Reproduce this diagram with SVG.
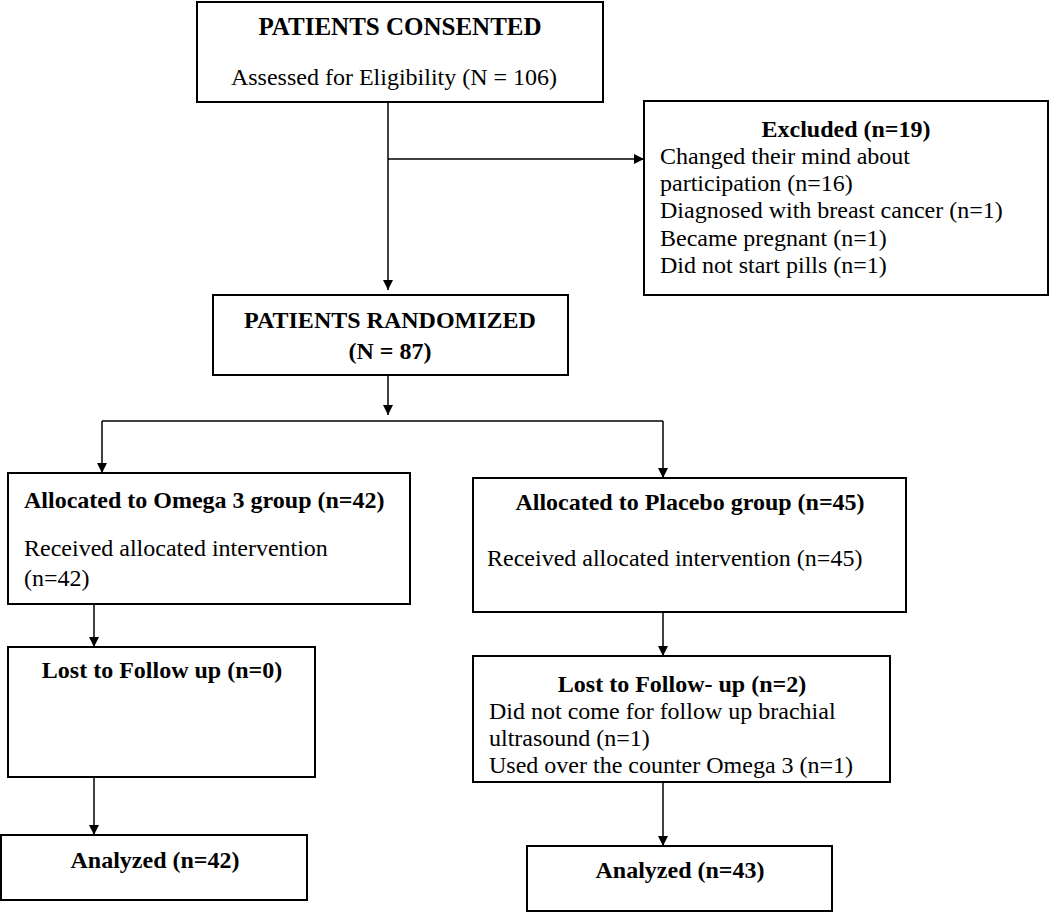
<svg xmlns="http://www.w3.org/2000/svg" width="1050" height="912" viewBox="0 0 1050 912">
<defs>
<marker id="ah" viewBox="0 0 10 10" refX="10" refY="5" markerWidth="10" markerHeight="11" markerUnits="userSpaceOnUse" orient="auto">
<path d="M0,0 L10,5 L0,10 z" fill="#000"/>
</marker>
<style>
.box{fill:#fff;stroke:#000;stroke-width:2}
.t{font-family:"Liberation Serif","Times New Roman",serif;font-size:24px;fill:#000}
.b{font-weight:bold}
.c{text-anchor:middle}
.ln{fill:none;stroke:#000;stroke-width:1.5}
</style>
</defs>
<rect width="1050" height="912" fill="#fff"/>
<g id="connectors">
<path class="ln" d="M388,102 V290" marker-end="url(#ah)"/>
<path class="ln" d="M388,159 H644" marker-end="url(#ah)"/>
<path class="ln" d="M388,375 V415" marker-end="url(#ah)"/>
<path class="ln" d="M102,421 H663"/>
<path class="ln" d="M102,421 V473" marker-end="url(#ah)"/>
<path class="ln" d="M663,421 V478" marker-end="url(#ah)"/>
<path class="ln" d="M94,604 V647" marker-end="url(#ah)"/>
<path class="ln" d="M663,612 V656" marker-end="url(#ah)"/>
<path class="ln" d="M94,777 V835" marker-end="url(#ah)"/>
<path class="ln" d="M663,782 V846" marker-end="url(#ah)"/>
</g>
<g id="consented">
<rect class="box" x="197" y="2" width="406" height="100"/>
<text class="t b c" x="400" y="35" style="font-size:25px">PATIENTS CONSENTED</text>
<text class="t c" x="394" y="85">Assessed for Eligibility (N = 106)</text>
</g>
<g id="excluded">
<rect class="box" x="644" y="101" width="404" height="194"/>
<text class="t b c" x="846" y="137">Excluded (n=19)</text>
<text class="t" x="660" y="164">Changed their mind about</text>
<text class="t" x="660" y="191">participation (n=16)</text>
<text class="t" x="660" y="218">Diagnosed with breast cancer (n=1)</text>
<text class="t" x="660" y="246">Became pregnant (n=1)</text>
<text class="t" x="660" y="273">Did not start pills (n=1)</text>
</g>
<g id="randomized">
<rect class="box" x="213" y="295" width="355" height="80"/>
<text class="t b c" x="390" y="328">PATIENTS RANDOMIZED</text>
<text class="t b c" x="390" y="359">(N = 87)</text>
</g>
<g id="omega">
<rect class="box" x="8" y="473" width="402" height="131"/>
<text class="t b" x="24" y="508">Allocated to Omega 3 group (n=42)</text>
<text class="t" x="24" y="556">Received allocated intervention</text>
<text class="t" x="24" y="586">(n=42)</text>
</g>
<g id="placebo">
<rect class="box" x="473" y="478" width="433" height="134"/>
<text class="t b c" x="690" y="510">Allocated to Placebo group (n=45)</text>
<text class="t" x="487" y="566">Received allocated intervention (n=45)</text>
</g>
<g id="lost0">
<rect class="box" x="8" y="647" width="307" height="130"/>
<text class="t b c" x="162" y="678">Lost to Follow up (n=0)</text>
</g>
<g id="lost2">
<rect class="box" x="473" y="656" width="417" height="126"/>
<text class="t b c" x="682" y="692">Lost to Follow- up (n=2)</text>
<text class="t" x="489" y="719">Did not come for follow up brachial</text>
<text class="t" x="489" y="746">ultrasound (n=1)</text>
<text class="t" x="489" y="773">Used over the counter Omega 3 (n=1)</text>
</g>
<g id="analyzed42">
<rect class="box" x="1" y="835" width="306" height="65"/>
<text class="t b c" x="155" y="868">Analyzed (n=42)</text>
</g>
<g id="analyzed43">
<rect class="box" x="527" y="846" width="305" height="65"/>
<text class="t b c" x="680" y="878">Analyzed (n=43)</text>
</g>
</svg>
